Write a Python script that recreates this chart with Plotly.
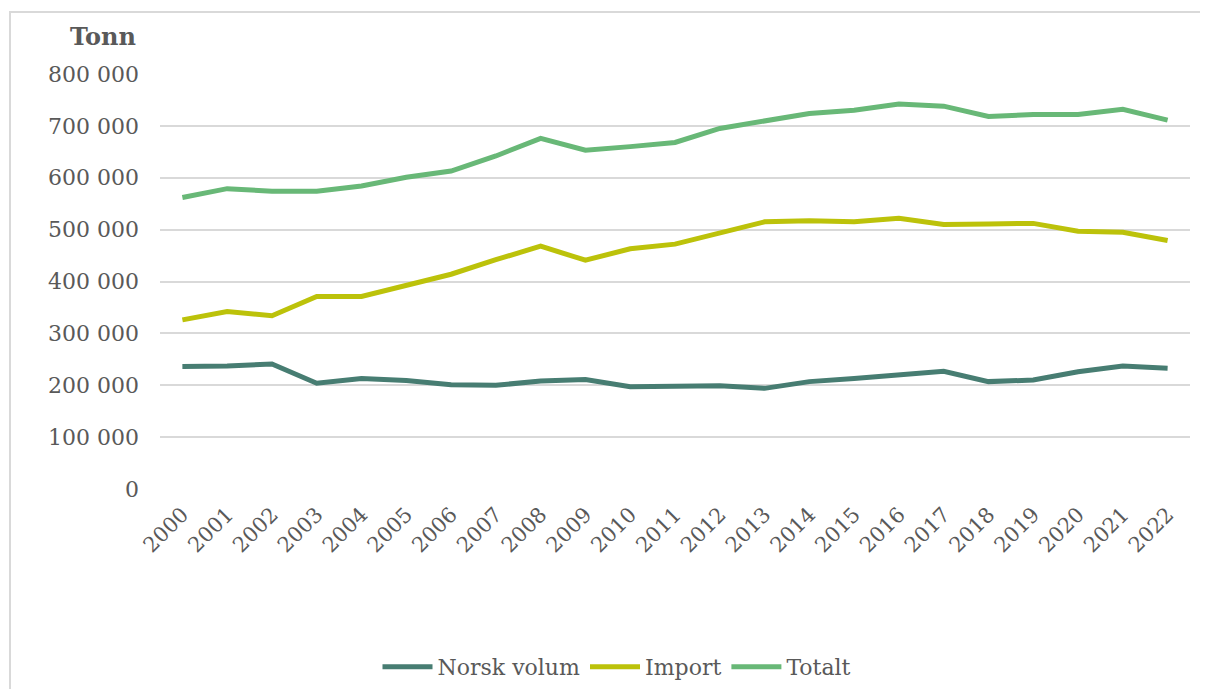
import plotly.graph_objects as go

years = [str(y) for y in range(2000, 2023)]
norsk_volum = [236000, 237000, 241000, 204000, 213000, 209000, 201000, 200000, 208000, 211000,
               197000, 197000, 199000, 194000, 207000, 213000, 220000, 227000, 207000, 210000,
               226000, 237000, 233000]
import_vals = [326000, 342000, 334000, 371000, 371000, 393000, 414000, 442000, 468000, 441000,
               463000, 472000, 494000, 515000, 517000, 515000, 522000, 510000, 511000, 512000,
               497000, 495000, 479000]
totalt = [562000, 579000, 574000, 574000, 584000, 601000, 613000, 642000, 676000, 653000,
          660000, 668000, 695000, 710000, 724000, 730000, 742000, 738000, 718000, 722000,
          722000, 732000, 711000]

series_names = ["Norsk volum", "Import", "Totalt"]
series_colors = ["#477d72", "#bcc20a", "#68b877"]
series_values = [norsk_volum, import_vals, totalt]

FONT = "DejaVu Serif"
TXT = "#595959"

fig = go.Figure()
for name, vals, col in zip(series_names, series_values, series_colors):
    fig.add_trace(go.Scatter(x=years, y=vals, name=name, mode="lines",
                             line=dict(color=col, width=5)))

OFF = 8  # page body margin
W, H = 1208 - 2 * OFF, 697 - 2 * OFF
L, T = 160 - OFF, 74 - OFF
R = W - (1190 - OFF)
B = H - (489 - OFF)
pw, ph = W - L - R, H - T - B

def px_x(x):
    return (x - OFF - L) / pw

def px_y(y):
    return (H - B - (y - OFF)) / ph

fig.update_layout(
    width=W, height=H,
    margin=dict(l=L, r=R, t=T, b=B, autoexpand=False),
    paper_bgcolor="white", plot_bgcolor="white",
    separators=", ",
    font=dict(family=FONT, size=22, color=TXT),
    showlegend=True,
    legend=dict(orientation="h", x=px_x(617), xanchor="center", y=px_y(667), yanchor="middle",
                font=dict(family=FONT, size=22, color=TXT), itemwidth=50,
                bgcolor="rgba(0,0,0,0)"),
    xaxis=dict(type="category", range=[-0.5, 22.5], tickangle=-45, showgrid=False,
               showline=False, zeroline=False, ticks="", automargin=False,
               ticklabelstandoff=8,
               tickfont=dict(family=FONT, size=21, color=TXT)),
    yaxis=dict(range=[0, 800000], tickvals=list(range(0, 800001, 100000)), tickformat=",d",
               showgrid=True, gridcolor="#d9d9d9", gridwidth=1.5, zeroline=False,
               showline=False, ticks="", ticklabelstandoff=20, automargin=False,
               tickfont=dict(family=FONT, size=22, color=TXT)),
    annotations=[dict(text="<b>Tonn</b>", xref="paper", yref="paper", x=px_x(103), y=px_y(37),
                      xanchor="center", yanchor="middle", showarrow=False,
                      font=dict(family=FONT, size=24, color=TXT))],
    shapes=[dict(type="rect", xref="paper", yref="paper",
                 x0=px_x(10), x1=px_x(1240), y0=px_y(12), y1=px_y(730),
                 line=dict(color="#d9d9d9", width=2), fillcolor="rgba(0,0,0,0)", layer="below")],
)

fig.write_html("out.html")
